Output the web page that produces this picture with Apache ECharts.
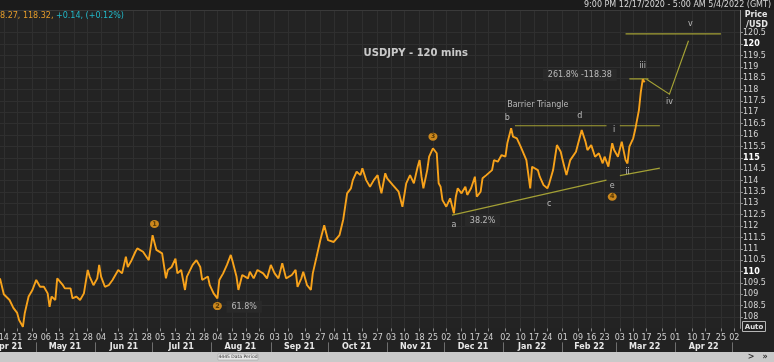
<!DOCTYPE html>
<html><head><meta charset="utf-8">
<script src="https://cdn.jsdelivr.net/npm/echarts@6/dist/echarts.min.js"></script>
<style>html,body{margin:0;padding:0;background:#222222;}#c{width:774px;height:362px;}</style>
</head><body><div id="c"></div>
<script>
// ---------- DATA ----------
const obsDates = [
'2021-04-12','2021-04-14','2021-04-17','2021-04-19','2021-04-21','2021-04-22','2021-04-24','2021-04-25','2021-04-27','2021-04-29',
'2021-05-01','2021-05-03','2021-05-05','2021-05-07','2021-05-08','2021-05-09','2021-05-11','2021-05-12','2021-05-15','2021-05-16',
'2021-05-19','2021-05-20','2021-05-22','2021-05-24','2021-05-26','2021-05-28','2021-05-29','2021-05-31','2021-06-02','2021-06-03',
'2021-06-04','2021-06-06','2021-06-08','2021-06-10','2021-06-13','2021-06-15','2021-06-17','2021-06-18','2021-06-20','2021-06-22',
'2021-06-23','2021-06-26','2021-06-29','2021-07-01','2021-07-03','2021-07-06','2021-07-08','2021-07-09','2021-07-11','2021-07-13',
'2021-07-14','2021-07-16','2021-07-18','2021-07-19','2021-07-22','2021-07-24','2021-07-26','2021-07-27','2021-07-30','2021-07-31',
'2021-08-02','2021-08-04','2021-08-05','2021-08-07','2021-08-09','2021-08-11','2021-08-12','2021-08-14','2021-08-15','2021-08-17',
'2021-08-20','2021-08-21','2021-08-23','2021-08-25','2021-08-28','2021-08-30','2021-09-01','2021-09-03','2021-09-05','2021-09-07',
'2021-09-09','2021-09-12','2021-09-14','2021-09-15','2021-09-17','2021-09-18','2021-09-20','2021-09-22','2021-09-23','2021-09-25',
'2021-09-27','2021-09-29','2021-10-01','2021-10-04','2021-10-07','2021-10-09','2021-10-11','2021-10-13','2021-10-14','2021-10-16',
'2021-10-18','2021-10-19','2021-10-21','2021-10-23','2021-10-25','2021-10-27','2021-10-28','2021-10-29','2021-10-31','2021-11-01',
'2021-11-04','2021-11-05','2021-11-07','2021-11-09','2021-11-11','2021-11-13','2021-11-15','2021-11-17','2021-11-18','2021-11-19',
'2021-11-20','2021-11-22','2021-11-23','2021-11-25','2021-11-27','2021-11-28','2021-11-29','2021-11-30','2021-12-02','2021-12-04',
'2021-12-06','2021-12-07','2021-12-08','2021-12-10','2021-12-12','2021-12-13','2021-12-15','2021-12-17','2021-12-18','2021-12-20',
'2021-12-21','2021-12-23','2021-12-26','2021-12-27','2021-12-29','2021-12-31','2022-01-02','2022-01-03','2022-01-05','2022-01-06',
'2022-01-08','2022-01-10','2022-01-11','2022-01-13','2022-01-15','2022-01-16','2022-01-19','2022-01-20','2022-01-22','2022-01-24',
'2022-01-25','2022-01-27','2022-01-29','2022-01-31','2022-02-01','2022-02-03','2022-02-05','2022-02-08','2022-02-09','2022-02-11',
'2022-02-13','2022-02-14','2022-02-16','2022-02-18','2022-02-20','2022-02-22','2022-02-23','2022-02-25','2022-02-27','2022-02-28',
'2022-03-02','2022-03-04','2022-03-06','2022-03-07','2022-03-08','2022-03-10','2022-03-11','2022-03-13','2022-03-14','2022-03-15',
'2022-03-16'
];
const obsPrices = [
109.70,109.00,108.75,108.40,108.18,107.87,107.57,108.18,108.90,109.19,
109.63,109.33,109.33,109.04,108.45,108.90,108.75,109.70,109.40,109.26,
109.26,108.82,108.90,108.75,109.04,110.07,109.78,109.40,109.70,110.29,
109.78,109.33,109.40,109.63,110.07,109.92,110.65,110.20,110.50,110.87,
111.02,110.87,110.50,111.60,110.95,110.80,109.70,110.07,110.20,110.57,
109.92,110.07,109.19,109.78,110.29,110.50,110.20,109.63,109.78,109.40,
109.04,108.82,109.63,109.92,110.29,110.73,110.43,109.78,109.19,109.85,
109.70,109.99,109.70,110.07,109.92,109.70,110.29,109.92,109.70,110.36,
109.70,109.85,110.07,109.33,109.70,109.99,109.40,109.19,109.92,110.65,
111.40,112.04,111.38,111.30,111.60,112.30,113.44,113.66,114.02,114.39,
114.24,114.54,114.02,113.73,114.02,114.24,113.80,113.44,114.32,114.10,
113.80,113.73,113.51,112.85,113.88,114.24,113.88,114.61,114.90,114.17,
113.66,114.46,115.05,115.42,115.20,113.88,113.73,113.14,112.85,113.22,
112.56,113.29,113.66,113.44,113.73,113.37,113.66,114.17,113.29,113.51,
114.10,114.24,114.46,114.90,114.83,115.12,115.05,115.64,116.30,115.93,
115.86,115.49,115.42,114.90,113.66,114.61,114.46,114.17,113.80,113.66,
113.88,114.46,115.56,115.27,114.90,114.24,114.90,115.27,115.34,116.22,
115.71,115.34,115.56,115.05,115.20,114.76,115.05,114.61,115.64,115.34,
115.05,115.71,114.90,114.75,115.49,115.86,116.22,117.10,117.90,118.45,
118.32
];
const lastPrice = 118.32;

// bottom axis: dated tick labels and month labels
const dayTickDates = ['2021-04-14','2021-04-21','2021-04-29','2021-05-06','2021-05-13','2021-05-21','2021-05-28',
'2021-06-04','2021-06-13','2021-06-21','2021-06-28','2021-07-05','2021-07-13','2021-07-21','2021-07-28',
'2021-08-04','2021-08-12','2021-08-19','2021-08-26','2021-09-03','2021-09-10','2021-09-19','2021-09-27',
'2021-10-04','2021-10-11','2021-10-19','2021-10-27','2021-11-03','2021-11-10','2021-11-18','2021-11-25',
'2021-12-02','2021-12-10','2021-12-17','2021-12-24','2022-01-02','2022-01-10','2022-01-17','2022-01-24',
'2022-02-01','2022-02-09','2022-02-16','2022-02-23','2022-03-03','2022-03-10','2022-03-17','2022-03-25',
'2022-04-01','2022-04-10','2022-04-17','2022-04-25','2022-05-02'];
const monthLabelDates = ['2021-04-16','2021-05-16','2021-06-16','2021-07-16','2021-08-16','2021-09-16','2021-10-16',
'2021-11-16','2021-12-16','2022-01-16','2022-02-15','2022-03-16','2022-04-16'];
const monthLabels = ['Apr 21','May 21','Jun 21','Jul 21','Aug 21','Sep 21','Oct 21','Nov 21','Dec 21','Jan 22','Feb 22','Mar 22','Apr 22'];
const priceTicks = [108,108.5,109,109.5,110,110.5,111,111.5,112,112.5,113,113.5,114,114.5,115,115.5,116,116.5,117,117.5,118,118.5,119,119.5,120,120.5];

// Elliott-wave annotations: [date, price, text]
const waveCircles = [['2021-07-02',112.09,'1'],['2021-08-04',108.48,'2'],['2021-11-25',115.93,'3'],['2022-02-27',113.29,'4']];
const waveLetters = [['2021-12-06',112.05,'a'],['2022-01-03',116.76,'b'],['2022-01-25',112.97,'c'],['2022-02-10',116.84,'d'],
['2022-02-27',113.76,'e'],['2022-01-19',117.32,'Barrier Triangle'],['2022-02-28',116.22,'i'],['2022-03-07',114.36,'ii'],
['2022-03-15',119.03,'iii'],['2022-03-29',117.47,'iv'],['2022-04-09',120.88,'v']];
const ratioNotes = [['2021-08-18',108.45,'61.8%'],['2021-12-21',112.23,'38.2%'],['2022-02-10',118.64,'261.8% -118.38']];
const chartTitle = ['2021-11-16',119.59,'USDJPY - 120 mins'];
const trendLines = [
 [['2022-01-07',116.41],['2022-02-24',116.41]],
 [['2022-03-03',116.41],['2022-03-24',116.41]],
 [['2021-12-05',112.48],['2022-02-24',114.02]],
 [['2022-03-03',114.22],['2022-03-24',114.55]],
 [['2022-03-08',118.47],['2022-03-18',118.47]],
 [['2022-03-17',118.45],['2022-03-29',117.80],['2022-04-08',120.15]],
 [['2022-03-06',120.45],['2022-04-25',120.45]]
];

// ---------- CHART ----------
const cats = [];
for (let t = Date.UTC(2021,3,12); t <= Date.UTC(2022,4,5); t += 86400000) cats.push(new Date(t).toISOString().slice(0,10));
const idx = d => cats.indexOf(d);
const tickSet = new Set(dayTickDates);
const monthSet = new Set(monthLabelDates);
const FONT = 'DejaVu Sans';

const chart = echarts.init(document.getElementById('c'), null, {renderer:'canvas'});
chart.setOption({
  animation:false,
  backgroundColor:'#222222',
  textStyle:{fontFamily:FONT},
  grid:{left:0,right:34,top:10,bottom:33.6,show:true,backgroundColor:'#232323',borderWidth:0,outerBoundsMode:'none'},
  xAxis:[{
    type:'category',data:cats,boundaryGap:false,
    axisLine:{show:false},
    axisTick:{show:true,length:3,interval:(i,v)=>tickSet.has(v),lineStyle:{color:'#8a8a8a'}},
    axisLabel:{interval:(i,v)=>tickSet.has(v),hideOverlap:false,formatter:v=>v.slice(8,10),color:'#cfcfcf',fontSize:8,margin:6,fontFamily:FONT},
    splitLine:{show:true,interval:(i,v)=>tickSet.has(v),lineStyle:{color:'#2f2f2f',width:1}}
  },{
    type:'category',data:cats,boundaryGap:false,position:'bottom',offset:14,
    axisLine:{show:false},
    axisTick:{show:true,length:10,interval:(i,v)=>v.slice(8,10)==='01',lineStyle:{color:'#6e6e6e'}},
    axisLabel:{interval:(i,v)=>monthSet.has(v),hideOverlap:false,formatter:v=>monthLabels[monthLabelDates.indexOf(v)]||'',color:'#e8e8e8',fontSize:8,fontWeight:'bold',margin:1,fontFamily:FONT},
    splitLine:{show:false}
  }],
  yAxis:{
    type:'value',position:'right',min:107.5,max:121.5,interval:0.5,
    axisLine:{show:true,lineStyle:{color:'#8a8a8a'}},
    axisTick:{show:true,length:3,customValues:priceTicks,lineStyle:{color:'#8a8a8a'}},
    axisLabel:{customValues:priceTicks,color:'#d4d4d4',fontSize:8,margin:3,fontFamily:FONT,
      formatter:v=>(v<108||v>120.5)?'':(v%5===0?'{b|'+v+'}':String(v)),
      rich:{b:{fontWeight:'bold',color:'#ffffff',fontSize:8,fontFamily:FONT}}},
    splitLine:{show:true,lineStyle:{color:'#2f2f2f',width:1}}
  },
  series:[
    {type:'line',data:obsDates.map((d,i)=>[idx(d),obsPrices[i]]),symbol:'none',showSymbol:false,
     lineStyle:{color:'#f7a21b',width:1.9},z:3,
     markLine:{silent:true,symbol:'none',lineStyle:{opacity:0},
       label:{show:true,position:'end',distance:0,formatter:String(lastPrice),backgroundColor:'#f5a623',color:'#111',fontWeight:'bold',fontSize:8,padding:[1,2,1,2],fontFamily:FONT},
       data:[{yAxis:lastPrice}]}},
    {type:'lines',coordinateSystem:'cartesian2d',polyline:true,silent:true,z:2,
     data:trendLines.map(l=>({coords:l.map(p=>[idx(p[0]),p[1]])})),
     lineStyle:{color:'#a3a035',width:1.2,opacity:1}},
    {type:'scatter',silent:true,z:5,symbol:'circle',symbolSize:[9,8],
     data:waveCircles.map(w=>[idx(w[0]),w[1],w[2]]),itemStyle:{color:'#f5a01a'},
     label:{show:true,position:'inside',formatter:p=>p.data[2],color:'#3a2600',fontSize:6.5,fontWeight:'bold',fontFamily:FONT}},
    {type:'scatter',silent:true,z:5,symbolSize:1,itemStyle:{color:'transparent'},
     data:waveLetters.map(w=>[idx(w[0]),w[1],w[2]]),
     label:{show:true,position:'inside',formatter:p=>p.data[2],color:'#dcdcdc',fontSize:8,fontFamily:FONT}},
    {type:'scatter',silent:true,z:5,symbolSize:1,itemStyle:{color:'transparent'},
     data:ratioNotes.map(w=>[idx(w[0]),w[1],w[2]]),
     label:{show:true,position:'inside',formatter:p=>p.data[2],color:'#dcdcdc',fontSize:8,fontFamily:FONT,backgroundColor:'#2a2a2a',padding:[2,5]}},
    {type:'scatter',silent:true,z:5,symbolSize:1,itemStyle:{color:'transparent'},
     data:[[idx(chartTitle[0]),chartTitle[1],chartTitle[2]]],
     label:{show:true,position:'inside',formatter:p=>p.data[2],color:'#f2f2f2',fontSize:10,fontWeight:'bold',fontFamily:FONT}}
  ],
  graphic:[
    {type:'rect',shape:{x:0,y:0,width:774,height:10},style:{fill:'#1b1b1b'},z:10},
    {type:'line',shape:{x1:0,y1:10.5,x2:740,y2:10.5},style:{stroke:'#3a3a3a',lineWidth:1},z:10},
    {type:'text',x:771,y:5,z:11,style:{text:'9:00 PM 12/17/2020 - 5:00 AM 5/4/2022 (GMT)',fill:'#d6d6d6',fontSize:8,fontFamily:FONT,align:'right',verticalAlign:'middle'}},
    {type:'text',x:0,y:16,z:11,style:{text:'{o|8.27, 118.32,} {c|+0.14, (+0.12%)}',fontSize:8,fontFamily:FONT,verticalAlign:'middle',
      rich:{o:{fill:'#e39b2b',fontSize:8,fontFamily:FONT},c:{fill:'#22b8c8',fontSize:8,fontFamily:FONT}}}},
    {type:'text',x:756,y:15,z:11,style:{text:'Price',fill:'#e6e6e6',fontSize:8,fontWeight:'bold',fontFamily:FONT,align:'center',verticalAlign:'middle'}},
    {type:'text',x:757,y:25,z:11,style:{text:'/USD',fill:'#e6e6e6',fontSize:8,fontWeight:'bold',fontFamily:FONT,align:'center',verticalAlign:'middle'}},
    {type:'rect',shape:{x:742.5,y:321.5,width:23,height:10},style:{fill:'none',stroke:'#b5b5b5',lineWidth:1},z:11},
    {type:'text',x:754,y:327,z:11,style:{text:'Auto',fill:'#e0e0e0',fontSize:7,fontWeight:'bold',fontFamily:FONT,align:'center',verticalAlign:'middle'}},
    {type:'rect',shape:{x:0,y:352,width:774,height:10},style:{fill:'#c9c9c9'},z:10},
    {type:'rect',shape:{x:218,y:354,width:40,height:6},style:{fill:'#e6e6e6',stroke:'#9a9a9a',lineWidth:0.5},z:11},
    {type:'text',x:238,y:357,z:12,style:{text:'4445 Data Period',fill:'#333',fontSize:4.5,fontFamily:FONT,align:'center',verticalAlign:'middle'}},
    {type:'text',x:751,y:357,z:12,style:{text:'>',fill:'#333',fontSize:8,fontWeight:'bold',fontFamily:FONT,align:'center',verticalAlign:'middle'}},
    {type:'text',x:765,y:357,z:12,style:{text:'»',fill:'#333',fontSize:8,fontWeight:'bold',fontFamily:FONT,align:'center',verticalAlign:'middle'}}
  ]
});
</script></body></html>
